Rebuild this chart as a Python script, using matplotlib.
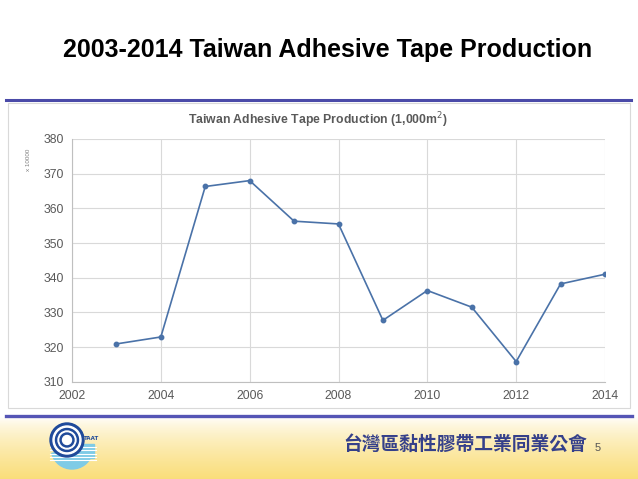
import numpy as np
import matplotlib.pyplot as plt
from matplotlib.patches import Rectangle, Circle, Wedge
from matplotlib.lines import Line2D

# data (unit: 10000 x 1,000 m2)
years = [2003, 2004, 2005, 2006, 2007, 2008, 2009, 2010, 2011, 2012, 2013, 2014]
production = [320.9, 322.9, 366.3, 368.0, 356.3, 355.5, 327.7, 336.3, 331.5, 315.8, 338.2, 341.0]
xticks = [2002, 2004, 2006, 2008, 2010, 2012, 2014]
yticks = [310, 320, 330, 340, 350, 360, 370, 380]

W, H = 638, 479
fig = plt.figure(figsize=(W / 100, H / 100), dpi=100)
fig.patch.set_facecolor('white')

def fx(px):
    return px / W

def fy(py):
    return 1 - py / H

# yellow gradient band at the bottom of the slide
bg = fig.add_axes([0, 0, 1, fy(417)], zorder=0)
grad = np.linspace(0, 1, 100).reshape(-1, 1)
top = np.array([1.0, 1.0, 1.0])
bot = np.array([0.98, 0.87, 0.48])
img = top + (bot - top) * grad[..., None] ** 0.7
bg.imshow(img, aspect='auto', extent=[0, 1, 0, 1], origin='upper')
bg.set_axis_off()

# slide title
fig.text(fx(328), fy(50), '2003-2014 Taiwan Adhesive Tape Production',
         ha='center', va='center', fontsize=18, fontweight='bold',
         family='Liberation Sans', color='black')

# blue rules
fig.add_artist(Line2D([fx(6), fx(631)], [fy(99.5), fy(99.5)], color='#4a4aa8', lw=2.2))
fig.add_artist(Line2D([fx(6), fx(632)], [fy(416), fy(416)], color='#5555b5', lw=2.4))

# chart frame
fig.add_artist(Rectangle((fx(8), fy(408)), fx(622) - fx(0), fy(103) - fy(408),
                         fill=False, ec='#d9d9d9', lw=0.8))

# chart
ax = fig.add_axes([fx(72), fy(381.7), fx(605) - fx(72), fy(139) - fy(381.7)])
ax.plot(years, production, color='#4a72a8', lw=1.2, marker='o', ms=3.2)
ax.set_xlim(2002, 2014)
ax.set_ylim(310, 380)
ax.set_xticks(xticks)
ax.set_yticks(yticks)
ax.grid(True, color='#d9d9d9', lw=0.8)
ax.set_axisbelow(True)
for s in ['top', 'right']:
    ax.spines[s].set_visible(False)
for s in ['left', 'bottom']:
    ax.spines[s].set_color('#bfbfbf')
ax.tick_params(length=0, labelsize=8.8, labelcolor='#595959', pad=6)
for lab in ax.get_xticklabels() + ax.get_yticklabels():
    lab.set_family('Liberation Sans')

fig.text(fx(318), fy(120), 'Taiwan Adhesive Tape Production (1,000m$^{2}$)',
         ha='center', va='center', fontsize=8.8, fontweight='bold',
         family='Liberation Sans', color='#595959')
fig.text(fx(29), fy(160), 'x 10000', ha='center', va='center', rotation=90,
         fontsize=4.5, color='#7f7f7f', family='Liberation Sans')

# logo
lg = fig.add_axes([fx(48), fy(472), fx(50), fy(420) - fy(472)], zorder=2)
lg.set_xlim(0, 50)
lg.set_ylim(0, 52)
lg.set_aspect('equal')
lg.set_axis_off()
lg.add_patch(Wedge((24, 24), 21, 195, 345, width=21, color='#7fcbe6', zorder=1))
lg.add_patch(Rectangle((22, 14), 24, 14, color='#7fcbe6', zorder=1))
for k in range(5):
    yy = 12 + k * 3.2
    lg.add_line(Line2D([2, 48], [yy, yy], color='white', lw=0.8, zorder=2))
lg.add_patch(Circle((19, 32), 17, color='#1f4a9a', zorder=3))
lg.add_patch(Circle((19, 32), 14, color='white', zorder=4))
lg.add_patch(Circle((19, 32), 11.5, color='#1f4a9a', zorder=5))
lg.add_patch(Circle((19, 32), 9, color='white', zorder=6))
lg.add_patch(Circle((19, 32), 7, color='#1f4a9a', zorder=7))
lg.add_patch(Circle((19, 32), 4.5, color='white', zorder=8))
lg.text(44, 33, 'TAAT', fontsize=4, color='#1f4a9a', fontweight='bold',
        ha='center', va='center', zorder=9)

# association name and slide number
fig.text(fx(465), fy(444), '台灣區黏性膠帶工業同業公會', ha='center', va='center',
         fontsize=13.5, color='#35408a', fontweight='bold',
         family=['Noto Sans CJK TC', 'DejaVu Sans'])
fig.text(fx(598), fy(448), '5', ha='center', va='center', fontsize=8,
         color='#555555', family='Liberation Sans')

fig.savefig('out.png', dpi=100)
